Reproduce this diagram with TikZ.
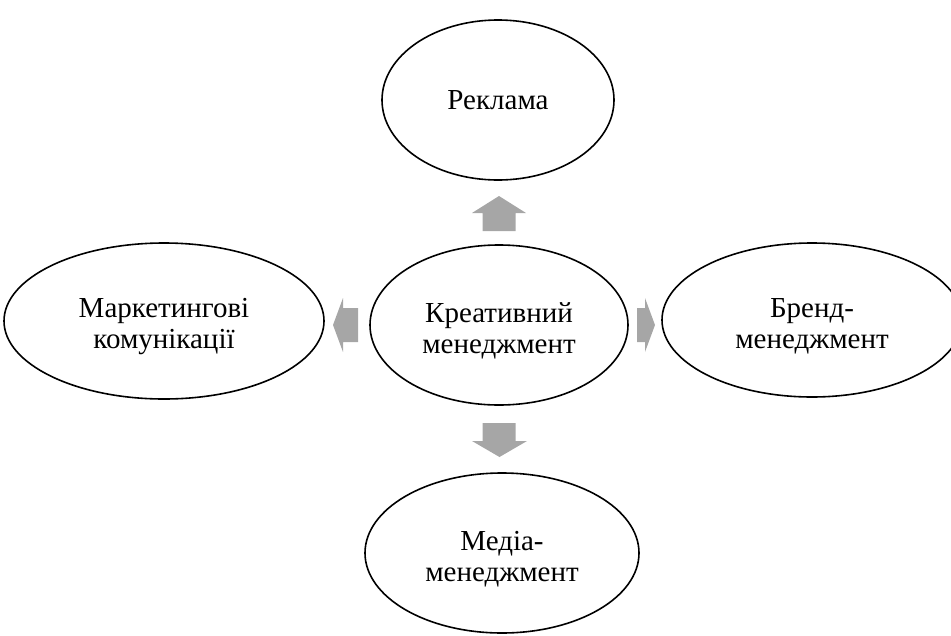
\documentclass[tikz,border=0pt]{standalone}
\usepackage{fontspec}
\setmainfont{Liberation Serif}
\usetikzlibrary{shapes.geometric}
\definecolor{arrgray}{RGB}{166,166,166}
\tikzset{
  oval/.style={ellipse, draw=black, line width=1.6pt, inner sep=0pt},
  ovaltext/.style={inner sep=0pt, align=center, font=\fontsize{29}{31}\selectfont},
  blockarrow/.style={fill=arrgray, draw=none}
}
\begin{document}
\begin{tikzpicture}[x=1pt,y=-1pt]
\useasboundingbox (0,0) rectangle (951,635);
\node[oval, minimum width=258pt, minimum height=160pt] (center) at (499,325) {};
\node[oval, minimum width=232pt, minimum height=160pt] (top) at (498,100) {};
\node[oval, minimum width=320pt, minimum height=156pt] (left) at (164,321) {};
\node[oval, minimum width=300pt, minimum height=154pt] (right) at (812,320) {};
\node[oval, minimum width=274pt, minimum height=160pt] (bottom) at (502,553) {};
\node[ovaltext] (centerT) at ([yshift=-6pt]center.center) {Креативний\\менеджмент};
\node[ovaltext] (topT) at (top.center) {Реклама};
\node[ovaltext] (leftT) at ([yshift=-6pt]left.center) {Маркетингові\\комунікації};
\node[ovaltext] (rightT) at ([yshift=-6pt]right.center) {Бренд-\\менеджмент};
\node[ovaltext] (bottomT) at ([yshift=-6pt]bottom.center) {Медіа-\\менеджмент};
% up arrow
\fill[blockarrow] (499,196) -- (526,213) -- (515.5,213) -- (515.5,231) -- (482.5,231) -- (482.5,213) -- (472,213) -- cycle;
% down arrow
\fill[blockarrow] (499.5,457) -- (527,441) -- (515.5,441) -- (515.5,423) -- (482.5,423) -- (482.5,441) -- (472,441) -- cycle;
% left arrow
\fill[blockarrow] (333,325) -- (343,298) -- (343,308) -- (358,308) -- (358,342) -- (343,342) -- (343,352) -- cycle;
% right arrow
\fill[blockarrow] (655,325) -- (645,298) -- (645,308) -- (637,308) -- (637,342) -- (645,342) -- (645,352) -- cycle;
\end{tikzpicture}
\end{document}
